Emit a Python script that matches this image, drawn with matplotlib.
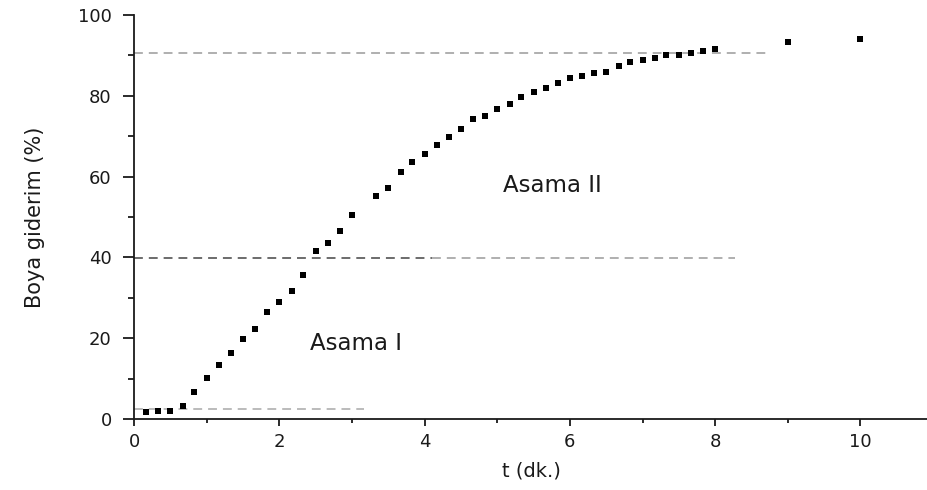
import matplotlib.pyplot as plt
from matplotlib.ticker import MultipleLocator

# sampling times (min) and dye removal (%)
t_min = [0.17, 0.33, 0.50, 0.67, 0.83, 1.00, 1.17, 1.33, 1.50, 1.67, 1.83, 2.00,
         2.17, 2.33, 2.50, 2.67, 2.83, 3.00, 3.33, 3.50, 3.67, 3.83, 4.00, 4.17,
         4.33, 4.50, 4.67, 4.83, 5.00, 5.17, 5.33, 5.50, 5.67, 5.83, 6.00, 6.17,
         6.33, 6.50, 6.67, 6.83, 7.00, 7.17, 7.33, 7.50, 7.67, 7.83, 8.00, 9.00,
         10.00]
removal = [1.7, 2.0, 2.1, 3.3, 6.6, 10.2, 13.4, 16.3, 19.9, 22.2, 26.6, 28.9,
           31.7, 35.6, 41.6, 43.6, 46.6, 50.6, 55.3, 57.2, 61.1, 63.6, 65.6, 67.9,
           69.7, 71.7, 74.3, 75.1, 76.8, 78.0, 79.6, 81.0, 81.9, 83.2, 84.3, 84.9,
           85.7, 86.0, 87.3, 88.3, 88.9, 89.3, 90.0, 90.2, 90.6, 91.2, 91.7, 93.2,
           94.1]

# stage boundary levels (%) and how far each guide runs (min)
levels = [2.5, 39.8, 90.6]
level_ends = [3.17, 8.28, 8.75]
stage_names = ['Asama I', 'Asama II']
stage_pos = [(3.05, 18.8), (5.76, 57.7)]

fig = plt.figure(figsize=(9.28, 4.90), dpi=100)
ax = fig.add_axes([0.1444, 0.1449, 0.8556, 0.8245])

dash = dict(linestyle='--', linewidth=1.1, dashes=(5.8, 3.9))
ax.plot([0, level_ends[0]], [levels[0]] * 2, color='#a8a8a8', **dash)
ax.plot([0, 4.1], [levels[1]] * 2, color='#444444', **dash)
ax.plot([4.1, level_ends[1]], [levels[1]] * 2, color='#9a9a9a', **dash)
ax.plot([0, level_ends[2]], [levels[2]] * 2, color='#9a9a9a', **dash)

ax.plot(t_min, removal, 's', color='black', markersize=4.3, markeredgewidth=0)

for name, (x, y) in zip(stage_names, stage_pos):
    ax.text(x, y, name, fontsize=16.5, color='#1a1a1a', ha='center', va='center')

ax.set_xlim(0, 10.93)
ax.set_ylim(0, 100)
ax.xaxis.set_major_locator(MultipleLocator(2))
ax.xaxis.set_minor_locator(MultipleLocator(1))
ax.yaxis.set_major_locator(MultipleLocator(20))
ax.yaxis.set_minor_locator(MultipleLocator(10))

for side in ['top', 'right']:
    ax.spines[side].set_visible(False)
for side in ['left', 'bottom']:
    ax.spines[side].set_linewidth(1.3)
    ax.spines[side].set_color('#1a1a1a')

ax.tick_params(axis='x', which='major', direction='out', length=5, width=1.3,
               labelsize=13, pad=5, colors='#1a1a1a')
ax.tick_params(axis='x', which='minor', direction='out', length=3, width=1.3,
               colors='#1a1a1a')
ax.tick_params(axis='y', which='major', direction='out', length=8, width=1.3,
               labelsize=13, pad=8, colors='#1a1a1a')
ax.tick_params(axis='y', which='minor', direction='out', length=4.5, width=1.3,
               colors='#1a1a1a')

ax.set_xlabel('t (dk.)', fontsize=14, labelpad=8, color='#1a1a1a')
ax.set_ylabel('Boya giderim (%)', fontsize=15, labelpad=24, color='#1a1a1a')

fig.savefig('out.png', dpi=100)
